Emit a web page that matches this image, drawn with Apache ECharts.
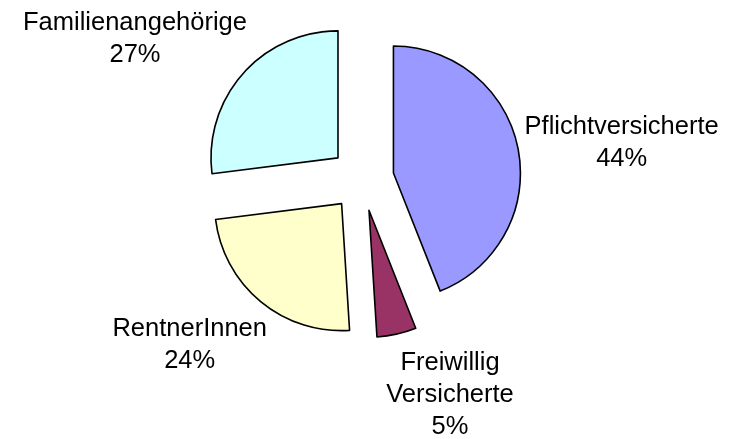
<!DOCTYPE html>
<html>
<head>
<meta charset="utf-8">
<script src="https://cdn.jsdelivr.net/npm/echarts@6/dist/echarts.min.js"></script>
<style>
  html, body { margin: 0; padding: 0; background: #fff; }
  #chart { width: 730px; height: 439px; }
</style>
</head>
<body>
<div id="chart"></div>
<script>
// Versichertengruppen, Anteile in Prozent
const groups = ['Pflichtversicherte', 'Freiwillig\nVersicherte', 'RentnerInnen', 'Familienangehörige'];
const shares = [44, 5, 24, 27];
const colors = ['#9999FF', '#993366', '#FFFFCC', '#CCFFFF'];

// labelLayout x/y gets ignored for pie outside labels, so steer them with the label line lengths
const lineLen = [34, 62, 56, 53];
const lineLen2 = [-27, -24, -42, -44];

const chart = echarts.init(document.getElementById('chart'));

chart.setOption({
  animation: false,
  series: [
    {
      type: 'pie',
      center: [362, 179],
      radius: 127,
      startAngle: 90,
      clockwise: true,
      selectedMode: 'multiple',
      selectedOffset: 32,
      label: {
        show: true,
        position: 'outside',
        distanceToLabelLine: 0,
        overflow: 'none',
        formatter: (p) =>
          p.name.split('\n').concat(p.value + '%').map((s) => `{c|${s}}`).join('\n'),
        rich: {
          c: {
            fontFamily: 'Liberation Sans, Arial, sans-serif',
            fontSize: 25.5,
            lineHeight: 32,
            color: '#000',
            align: 'center',
          },
        },
      },
      labelLine: { show: false },
      itemStyle: { borderColor: '#000', borderWidth: 1.6 },
      emphasis: { disabled: true },
      data: groups.map((name, i) => ({
        name,
        value: shares[i],
        selected: true,
        itemStyle: { color: colors[i] },
        labelLine: { show: false, length: lineLen[i], length2: lineLen2[i] },
      })),
    },
  ],
});
</script>
</body>
</html>
